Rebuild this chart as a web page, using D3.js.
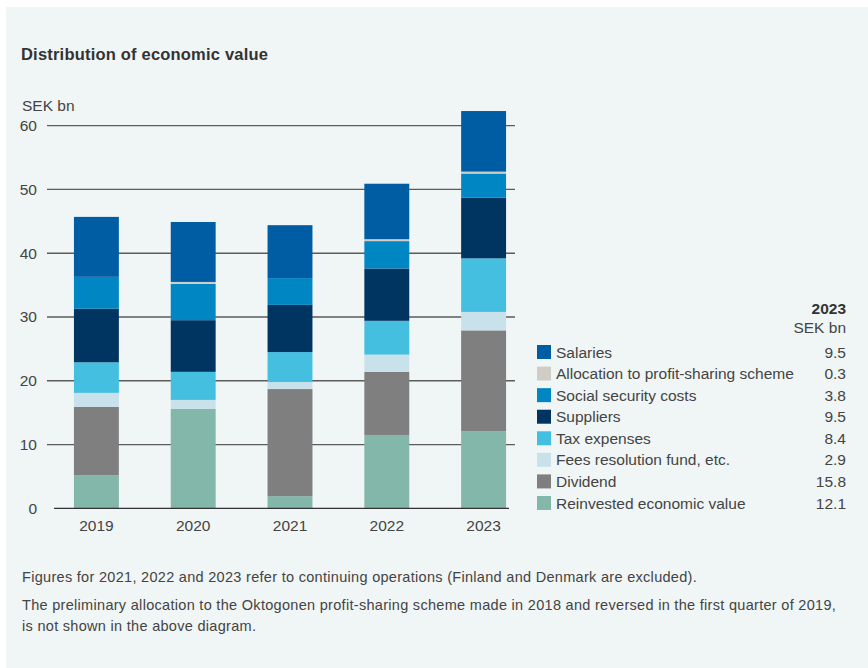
<!DOCTYPE html>
<html>
<head>
<meta charset="utf-8">
<script src="https://cdn.jsdelivr.net/npm/d3@7"></script>
<style>
  html, body { margin: 0; padding: 0; background: #ffffff; }
  svg { display: block; font-family: "Liberation Sans", Arial, sans-serif; }
</style>
</head>
<body>
<svg id="chart" width="868" height="668"></svg>
<script>
// Years on the x axis
const years = ["2019", "2020", "2021", "2022", "2023"];

// Series, SEK bn per year (bottom of the stack first)
const reinvested    = [5.2, 15.6, 1.9, 11.5, 12.1];
const dividend      = [10.7, 0.0, 16.8, 9.9, 15.8];
const feesFund      = [2.2, 1.4, 1.1, 2.7, 2.9];
const taxExpenses   = [4.8, 4.4, 4.7, 5.3, 8.4];
const suppliers     = [8.4, 8.1, 7.4, 8.2, 9.5];
const socialSec     = [5.0, 5.7, 4.2, 4.3, 3.8];
const profitSharing = [0.0, 0.3, 0.0, 0.3, 0.3];
const salaries      = [9.4, 9.4, 8.3, 8.7, 9.5];

const yTicks = [0, 10, 20, 30, 40, 50, 60];

const seriesNames = [
  "Reinvested economic value", "Dividend", "Fees resolution fund, etc.",
  "Tax expenses", "Suppliers", "Social security costs",
  "Allocation to profit-sharing scheme", "Salaries"
];
const seriesValues = [reinvested, dividend, feesFund, taxExpenses,
  suppliers, socialSec, profitSharing, salaries];
const seriesColors = ["#82b7a9", "#7f7f7f", "#c9e1eb", "#45bfe0",
  "#003461", "#0086c2", "#d2ccc7", "#005ca3"];

const rows = years.map((y, i) => {
  const r = { year: y };
  seriesNames.forEach((n, k) => { r[n] = seriesValues[k][i]; });
  return r;
});

const FONT = "'Liberation Sans', Arial, sans-serif";
const svg = d3.select("#chart");

// panel background
svg.append("rect").attr("x", 6).attr("y", 7).attr("width", 862).attr("height", 661)
  .attr("fill", "#f0f5f5");

svg.append("text").attr("x", 21).attr("y", 60)
  .attr("font-size", 16.5).attr("font-weight", 700).attr("letter-spacing", 0.2)
  .attr("fill", "#333")
  .text("Distribution of economic value");

const x = d3.scaleBand().domain(years).range([48, 532]).paddingInner(0.536).paddingOuter(0.268);
const y = d3.scaleLinear().domain([0, 60]).range([508.3, 125.7]);

// gridlines
const grid = svg.append("g");
grid.selectAll("line").data(yTicks.filter(t => t > 0)).join("line")
  .attr("x1", 47).attr("x2", 515)
  .attr("y1", d => y(d)).attr("y2", d => y(d))
  .attr("stroke", "#5c5c5c").attr("stroke-width", 1.3);

// y tick labels
const yAxis = d3.axisLeft(y).tickValues(yTicks).tickSize(0).tickPadding(0);
const ga = svg.append("g").attr("transform", "translate(37,0)").call(yAxis);
ga.select(".domain").remove();
ga.selectAll("text").attr("font-size", 15.5).attr("fill", "#444").attr("font-family", FONT);

svg.append("text").attr("x", 22).attr("y", 111).attr("font-size", 15.5).attr("fill", "#444")
  .text("SEK bn");

// stacked bars
const stack = d3.stack().keys(seriesNames)(rows);
svg.append("g").selectAll("g").data(stack).join("g")
  .attr("fill", (d, i) => seriesColors[i])
  .selectAll("rect").data(d => d).join("rect")
  .attr("x", d => x(d.data.year))
  .attr("width", x.bandwidth())
  .attr("y", d => y(d[1]))
  .attr("height", d => y(d[0]) - y(d[1]));

// baseline axis
const xAxis = d3.axisBottom(x).tickSize(0).tickPadding(12);
const gx = svg.append("g").attr("transform", `translate(0,${y(0)})`).call(xAxis);
gx.select(".domain").remove();
gx.selectAll("text").attr("font-size", 15.5).attr("fill", "#444").attr("font-family", FONT);
svg.append("line").attr("x1", 54).attr("x2", 509).attr("y1", y(0)).attr("y2", y(0))
  .attr("stroke", "#333").attr("stroke-width", 1.3);

// legend with 2023 values
const last = years.length - 1;
const legend = svg.append("g");
legend.append("text").attr("x", 846).attr("y", 314).attr("text-anchor", "end")
  .attr("font-size", 15.5).attr("font-weight", 700).attr("fill", "#333").text(years[last]);
legend.append("text").attr("x", 846).attr("y", 333).attr("text-anchor", "end")
  .attr("font-size", 15.5).attr("fill", "#444").text("SEK bn");

const legendOrder = seriesNames.map((n, i) => i).reverse();
const ly = d3.scalePoint().domain(legendOrder).range([352, 503]);
const items = legend.selectAll("g.item").data(legendOrder).join("g").attr("class", "item")
  .attr("transform", i => `translate(0,${ly(i)})`);
items.append("rect").attr("x", 537).attr("y", -7).attr("width", 14).attr("height", 14)
  .attr("fill", i => seriesColors[i]);
items.append("text").attr("x", 556).attr("y", 5.5).attr("font-size", 15.5).attr("fill", "#444")
  .text(i => seriesNames[i]);
items.append("text").attr("x", 846).attr("y", 5.5).attr("text-anchor", "end")
  .attr("font-size", 15.5).attr("fill", "#444")
  .text(i => seriesValues[i][last].toFixed(1));

// footnotes
const notes = [
  ["Figures for 2021, 2022 and 2023 refer to continuing operations (Finland and Denmark are excluded).", 582],
  ["The preliminary allocation to the Oktogonen profit-sharing scheme made in 2018 and reversed in the first quarter of 2019,", 610],
  ["is not shown in the above diagram.", 631]
];
svg.append("g").selectAll("text").data(notes).join("text")
  .attr("x", 22).attr("y", d => d[1]).attr("font-size", 14.5).attr("letter-spacing", 0.3)
  .attr("fill", "#444")
  .text(d => d[0]);
</script>
</body>
</html>
